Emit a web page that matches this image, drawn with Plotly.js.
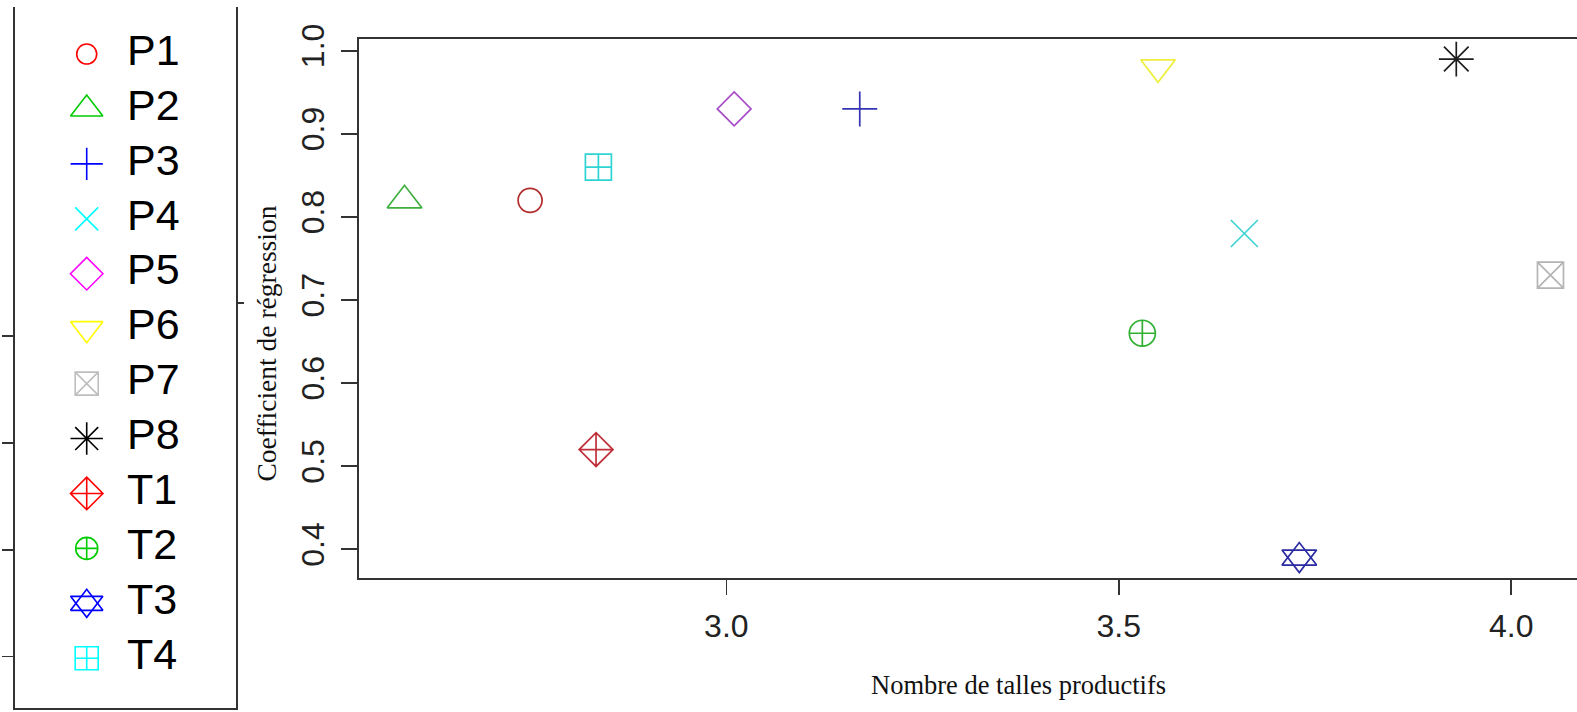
<!DOCTYPE html>
<html><head><meta charset="utf-8">
<script src="https://cdn.plot.ly/plotly-3.0.1.min.js"></script>
<style>html,body{margin:0;padding:0;background:#fff;overflow:hidden}#chart{width:1577px;height:712px}</style>
</head><body><div id="chart"></div>
<script>
// ---- data ----
const categories   = ['P1','P2','P3','P4','P5','P6','P7','P8','T1','T2','T3','T4'];
const talles       = [2.75, 2.59, 3.17, 3.66, 3.01, 3.55, 4.05, 3.93, 2.834, 3.53, 3.73, 2.837];
const coefficients = [0.82, 0.82, 0.93, 0.78, 0.93, 0.98, 0.73, 0.99, 0.52, 0.66, 0.39, 0.86];
const xTicks = [3.0, 3.5, 4.0];
const yTicks = [0.4, 0.5, 0.6, 0.7, 0.8, 0.9, 1.0];
const xTitle = 'Nombre de talles productifs';
const yTitle = 'Coefficient de régression';

// ---- styles ----
const symbols = {
  P1:['circle-open'], P2:['triangle-up-open'], P3:['cross-thin-open'], P4:['x-thin-open'],
  P5:['diamond-open'], P6:['triangle-down-open'], P7:['square-x-open'], P8:['asterisk-open'],
  T1:['diamond-cross-open'], T2:['circle-cross-open'], T3:['triangle-up-open','triangle-down-open'],
  T4:['square-cross-open']
};
const plotColors = ['#b22c2c','#3eae3e','#3434b4','#3ed2d2','#a64ac8','#eeee3c','#b4b4b4','#1e1e1e','#c0303a','#30b030','#2a2aa2','#2ed4d4'];
const legColors  = ['#ff0000','#00cd00','#0000ff','#00ffff','#ff00ff','#ffff00','#bebebe','#000000','#ff0000','#00cd00','#0000ff','#00ffff'];
const plotSizes  = [24, 30, 25, 27, 26, 30, 26, 29, 26, 26, 30, 26];
const legSizes   = [20, 28, 23, 23, 25, 28, 23, 27, 25, 22, 28, 23];

const W = 1577, H = 712;
const LEG_MARK_X = 0.324, LEG_TEXT_X = 0.507;

const traces = [
  // empty traces so that the legend-panel axes exist as subplots
  { x: [], y: [], xaxis: 'x2', yaxis: 'y2', mode: 'markers', hoverinfo: 'skip' },
  { x: [], y: [], xaxis: 'x2', yaxis: 'y4', mode: 'markers', hoverinfo: 'skip' }
];
categories.forEach((c, i) => {
  symbols[c].forEach(s => {
    traces.push({
      x: [talles[i]], y: [coefficients[i]], xaxis: 'x', yaxis: 'y',
      mode: 'markers', hoverinfo: 'skip', cliponaxis: false,
      marker: { symbol: s, size: plotSizes[i], color: plotColors[i], line: { color: plotColors[i], width: 1.7 } }
    });
    traces.push({
      x: [LEG_MARK_X], y: [i], xaxis: 'x2', yaxis: 'y3',
      mode: 'markers', hoverinfo: 'skip', cliponaxis: false,
      marker: { symbol: s, size: legSizes[i], color: legColors[i], line: { color: legColors[i], width: 1.6 } }
    });
  });
});
traces.push({
  x: categories.map(() => LEG_TEXT_X), y: categories.map((_, i) => i),
  text: categories, xaxis: 'x2', yaxis: 'y3', mode: 'text', textposition: 'middle right',
  hoverinfo: 'skip', cliponaxis: false,
  textfont: { family: 'Liberation Sans, Arial, sans-serif', size: 43, color: '#000' }
});

const axisLine = { showline: true, linewidth: 2, linecolor: '#333', showgrid: false, zeroline: false };
const tickFont = { family: 'Liberation Sans, Arial, sans-serif', size: 32, color: '#222' };
const legDomainY = [(H - 708.3) / H, (H - 7) / H];

const layout = {
  width: W, height: H, margin: { l: 0, r: 0, t: 0, b: 0 },
  paper_bgcolor: '#fff', plot_bgcolor: '#fff', showlegend: false,
  xaxis: Object.assign({}, axisLine, {
    domain: [359 / W, 1], range: [2.532, 4.0838], anchor: 'y', mirror: true,
    tickvals: xTicks, ticktext: xTicks.map(v => v.toFixed(1)),
    ticks: 'outside', ticklen: 15, tickwidth: 1.6, tickcolor: '#333',
    tickfont: tickFont, ticklabelstandoff: 4
  }),
  yaxis: Object.assign({}, axisLine, {
    domain: [(H - 577.7) / H, (H - 39) / H], range: [0.3658, 1.0141], anchor: 'x',
    tickvals: yTicks, ticktext: yTicks.map(v => v.toFixed(1)), tickangle: -90,
    ticks: 'outside', ticklen: 16, tickwidth: 1.6, tickcolor: '#333',
    tickfont: tickFont, ticklabelstandoff: 4
  }),
  xaxis2: Object.assign({}, axisLine, {
    domain: [15.3 / W, 235.7 / W], range: [0, 1], anchor: 'y2',
    ticks: '', showticklabels: false, fixedrange: true
  }),
  yaxis2: Object.assign({}, axisLine, {
    domain: legDomainY, range: [0, 1], anchor: 'x2',
    ticks: 'outside', ticklen: 11, tickwidth: 1.6, tickcolor: '#333',
    tickvals: [0.5313, 0.3779, 0.2257, 0.0736], showticklabels: false
  }),
  yaxis3: { overlaying: 'y2', anchor: 'x2', domain: legDomainY, range: [11.911, -0.856], visible: false, showgrid: false, zeroline: false },
  yaxis4: Object.assign({}, axisLine, {
    overlaying: 'y2', anchor: 'x2', side: 'right', domain: legDomainY, range: [0, 1],
    ticks: 'outside', ticklen: 6, tickwidth: 1.6, tickcolor: '#333',
    tickvals: [0.5779], showticklabels: false
  }),
  annotations: [
    { text: yTitle, xref: 'paper', yref: 'paper', x: 266 / W, y: (H - 343.5) / H,
      textangle: -90, showarrow: false, xanchor: 'center', yanchor: 'middle',
      font: { family: 'Liberation Serif, Times New Roman, serif', size: 27.5, color: '#111' } },
    { text: xTitle, xref: 'paper', yref: 'paper', x: 1018 / W, y: (H - 685) / H,
      showarrow: false, xanchor: 'center', yanchor: 'middle',
      font: { family: 'Liberation Serif, Times New Roman, serif', size: 26.5, color: '#111' } }
  ]
};

Plotly.newPlot('chart', traces, layout, { staticPlot: true, displayModeBar: false });
</script>
</body></html>
